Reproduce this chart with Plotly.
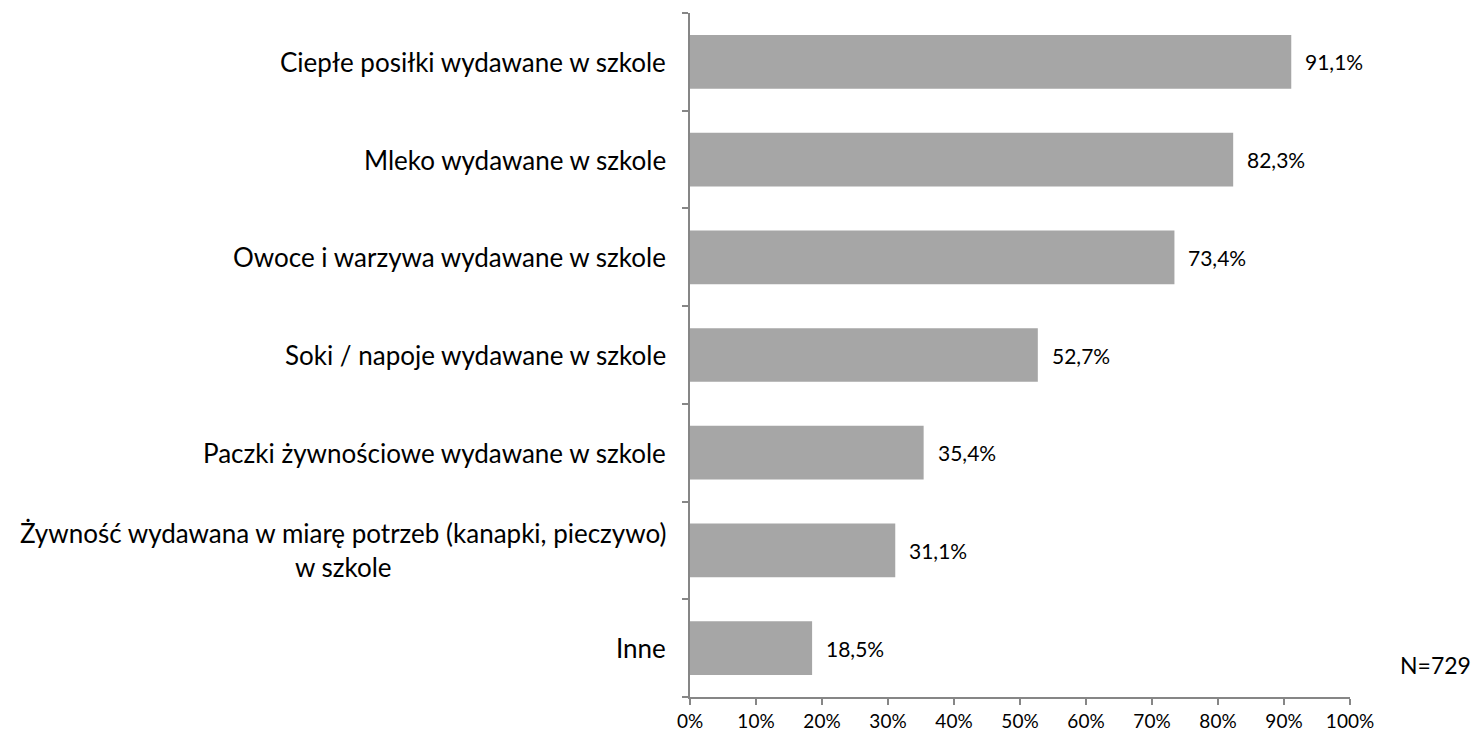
import plotly.graph_objects as go

categories = [
    "Ciepłe posiłki wydawane w szkole",
    "Mleko wydawane w szkole",
    "Owoce i warzywa wydawane w szkole",
    "Soki / napoje wydawane w szkole",
    "Paczki żywnościowe wydawane w szkole",
    "Żywność wydawana w miarę potrzeb (kanapki, pieczywo)<br>w szkole",
    "Inne",
]
values = [91.1, 82.3, 73.4, 52.7, 35.4, 31.1, 18.5]
x_ticks = [0, 10, 20, 30, 40, 50, 60, 70, 80, 90, 100]
x_tick_labels = ["0%", "10%", "20%", "30%", "40%", "50%", "60%", "70%", "80%", "90%", "100%"]

FONT = "Lato, Carlito, Calibri, sans-serif"
AXIS = "#868686"


def pct(v):
    return f"{v:.1f}".replace(".", ",") + "%"


fig = go.Figure(go.Bar(
    x=values,
    y=categories,
    orientation="h",
    marker=dict(color="#A6A6A6", line=dict(width=0)),
    width=0.55,
    hoverinfo="skip",
))

# value labels next to the bars
for cat, v in zip(categories, values):
    fig.add_annotation(x=v, y=cat, text=pct(v), showarrow=False,
                       xanchor="left", xshift=12,
                       font=dict(family=FONT, size=21, color="#000"))

# category labels (centered lines, right aligned block)
for cat in categories:
    fig.add_annotation(x=0, y=cat, xref="paper", text=cat, showarrow=False,
                       xanchor="right", align="center", xshift=-22,
                       font=dict(family=FONT, size=26, color="#000"))

fig.add_annotation(x=1, y=0.024, xref="paper", yref="paper", text="N=729",
                   showarrow=False, xanchor="right", xshift=123,
                   font=dict(family=FONT, size=23, color="#000"))

fig.update_xaxes(
    range=[0, 100], tickvals=x_ticks, ticktext=x_tick_labels,
    showgrid=False, zeroline=False,
    showline=True, linecolor=AXIS, linewidth=1.5,
    ticks="outside", ticklen=6, tickcolor=AXIS, tickwidth=1.5,
    tickfont=dict(family=FONT, size=19, color="#000"),
)
fig.update_yaxes(
    categoryorder="array", categoryarray=categories[::-1],
    showticklabels=False, showgrid=False,
    showline=True, linecolor=AXIS, linewidth=1.5,
    ticks="outside", tickson="boundaries", ticklen=6, tickcolor=AXIS, tickwidth=1.5,
)

fig.update_layout(
    width=1480, height=735,
    margin=dict(l=682, r=138, t=5, b=46),
    plot_bgcolor="white", paper_bgcolor="white",
    showlegend=False,
    font=dict(family=FONT),
)

fig.write_html("out.html")
